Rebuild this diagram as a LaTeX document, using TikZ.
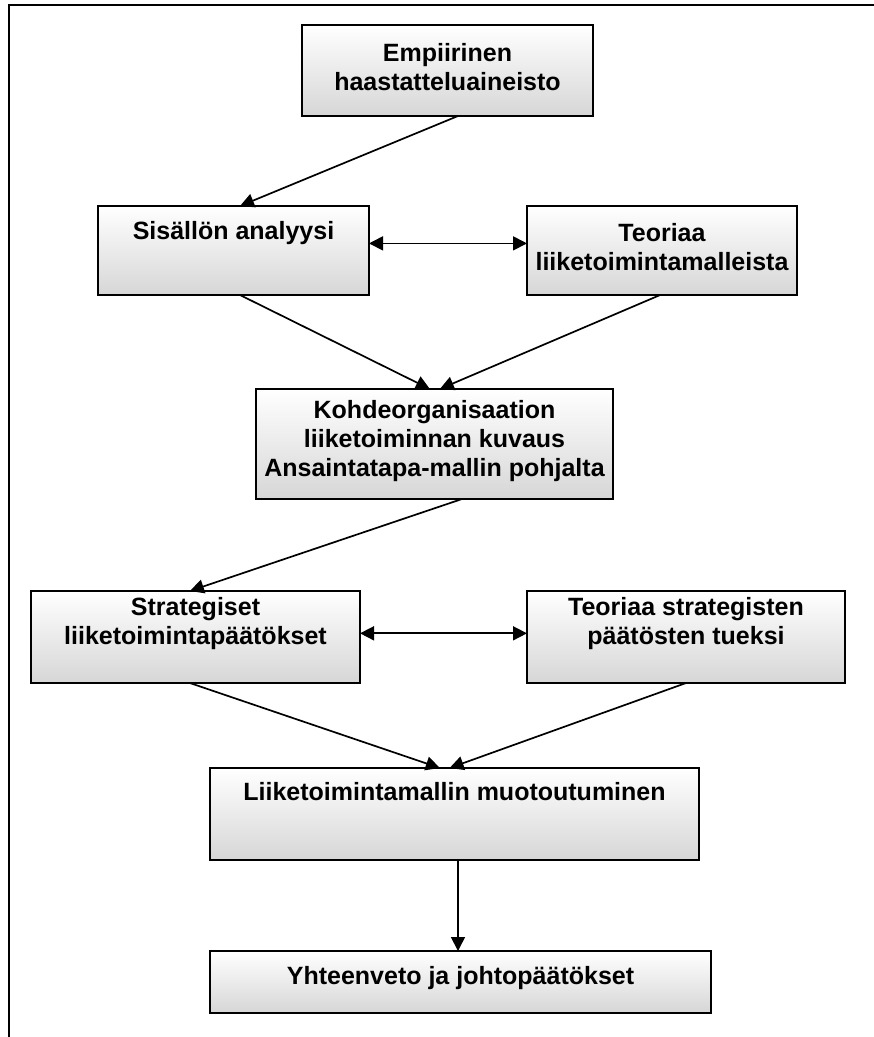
\documentclass[tikz,border=0pt]{standalone}
\usepackage{fontspec}
\setmainfont{Liberation Sans}
\usetikzlibrary{arrows.meta,calc,shadows}
\begin{document}
\begin{tikzpicture}[x=1pt,y=-1pt,
  box/.style={draw=black, line width=1.8pt, inner sep=0pt, outer sep=0pt,
    top color=white, bottom color=black!16,
    drop shadow={shadow xshift=1.2pt, shadow yshift=-1.2pt, fill=black!75, opacity=1}},
  lbl/.style={font=\bfseries\fontsize{25}{29}\selectfont, align=center, inner sep=0pt},
  conn/.style={line width=1.7pt, -{Triangle[length=14pt,width=14pt]}},
  both/.style={line width=1.7pt, {Triangle[length=14pt,width=14pt]}-{Triangle[length=14pt,width=14pt]}},
  frame/.style={line width=2.4pt, line cap=rect}
]
\useasboundingbox (0,0) rectangle (874,1037);

% open frame: top and left sides only
\coordinate (fA) at (9,1040);
\coordinate (fB) at (9,5);
\coordinate (fC) at (880,5);
\draw[frame] (fA) -- (fB) -- (fC);

% boxes
\node[box, minimum width=291pt, minimum height=91pt] (E)  at (447.5,70.5) {};
\node[box, minimum width=271pt, minimum height=89pt] (S)  at (233.5,250.5) {};
\node[box, minimum width=270pt, minimum height=89pt] (T1) at (662,250.5) {};
\node[box, minimum width=357pt, minimum height=110pt] (K) at (434.5,444) {};
\node[box, minimum width=329pt, minimum height=92pt] (St) at (195.5,637) {};
\node[box, minimum width=318pt, minimum height=92pt] (T2) at (686,637) {};
\node[box, minimum width=489pt, minimum height=92pt] (L)  at (454.5,814) {};
\node[box, minimum width=501pt, minimum height=62pt] (Y)  at (460.5,982) {};

% texts
\node[lbl] (tE)  at (447.5,67.5) {Empiirinen\\haastatteluaineisto};
\node[lbl] (tS)  at (233.5,233) {Sisällön analyysi};
\node[lbl] (tT1) at (662,247.5) {Teoriaa\\liiketoimintamalleista};
\node[lbl] (tK)  at (434.5,441) {Kohdeorganisaation\\liiketoiminnan kuvaus\\Ansaintatapa-mallin pohjalta};
\node[lbl] (tSt) at (195.5,623.5) {Strategiset\\liiketoimintapäätökset};
\node[lbl] (tT2) at (686,623.5) {Teoriaa strategisten\\päätösten tueksi};
\node[lbl] (tL)  at (454.5,792) {Liiketoimintamallin muotoutuminen};
\node[lbl] (tY)  at (460.5,978) {Yhteenveto ja johtopäätökset};

% connectors
\draw[conn] ($(E.south west)!0.536!(E.south east)$) -- ($(S.north west)!0.524!(S.north east)$);
\draw[both] ($(S.north east)!0.42!(S.south east)$) -- ($(T1.north west)!0.42!(T1.south west)$);
\draw[conn] ($(S.south west)!0.524!(S.south east)$) -- ($(K.north west)!0.487!(K.north east)$);
\draw[conn] ($(T1.south west)!0.493!(T1.south east)$) -- ($(K.north west)!0.515!(K.north east)$);
\draw[conn] ($(K.south west)!0.577!(K.south east)$) -- ($(St.north west)!0.483!(St.north east)$);
\draw[both] ($(St.north east)!0.46!(St.south east)$) -- ($(T2.north west)!0.46!(T2.south west)$);
\draw[conn] ($(St.south west)!0.483!(St.south east)$) -- ($(L.north west)!0.47!(L.north east)$);
\draw[conn] ($(T2.south west)!0.5!(T2.south east)$) -- ($(L.north west)!0.49!(L.north east)$);
\draw[conn] ($(L.south west)!0.507!(L.south east)$) -- ($(Y.north west)!0.495!(Y.north east)$);
\end{tikzpicture}
\end{document}
